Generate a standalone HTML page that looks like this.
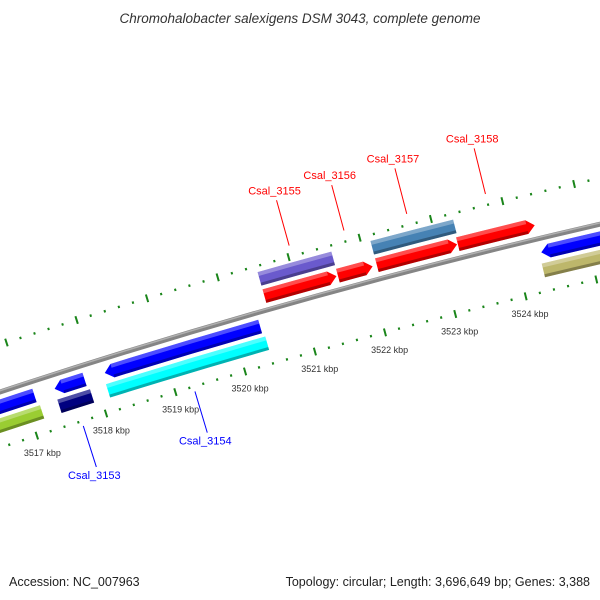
<!DOCTYPE html>
<html><head><meta charset="utf-8"><style>
html,body{margin:0;padding:0;background:#fff;}
svg{display:block;font-family:"Liberation Sans",sans-serif;}
</style></head><body>
<svg id="map" width="600" height="600" viewBox="0 0 600 600" xmlns="http://www.w3.org/2000/svg">
<rect width="600" height="600" fill="#fff"/>
<text x="300" y="23" text-anchor="middle" font-style="italic" font-size="13.5" fill="#333">Chromohalobacter salexigens DSM 3043, complete genome</text>
<g id="ticks"></g>
<g id="backbone"></g>
<g id="features"></g>
<g id="labels"></g>
<text x="9" y="586" font-size="12.5" fill="#222">Accession: NC_007963</text>
<text x="590" y="586" text-anchor="end" font-size="12.5" fill="#222">Topology: circular; Length: 3,696,649 bp; Genes: 3,388</text>
</svg>
<script>
// gene data (kbp)
const geneStarts = [3516.0, 3516.0, 3517.43, 3517.42, 3518.15, 3518.12, 3520.54, 3520.54, 3521.58, 3522.13, 3522.13, 3523.27, 3524.35, 3524.32];
const geneEnds   = [3517.17, 3517.14, 3517.86, 3517.89, 3520.37, 3520.40, 3521.58, 3521.56, 3522.07, 3523.26, 3523.29, 3524.35, 3526.0, 3526.0];
const geneStrand = [-1, -1, -1, -1, -1, -1, 1, 1, 1, 1, 1, 1, -1, -1];
const geneRow    = [2, 1, 1, 2, 1, 2, 2, 1, 1, 1, 2, 1, 1, 2];
const geneColor  = ["#9acd32","#0000ff","#0000ff","#000080","#0000ff","#00ffff","#6a5acd","#ff0000","#ff0000","#ff0000","#4682b4","#ff0000","#0000ff","#bdb76b"];
const labelNames = ["Csal_3153","Csal_3154","Csal_3155","Csal_3156","Csal_3157","Csal_3158"];
const labelPos   = [3517.65, 3519.26, 3521.05, 3521.82, 3522.70, 3523.80];
const labelStrand= [-1, -1, 1, 1, 1, 1];
const tickLabels = [3517, 3518, 3519, 3520, 3521, 3522, 3523, 3524];

const cx = 2129, cy = 6848, R0 = 6798;
function ang(kb){ return (-108.07 + 0.617*(kb-3517))*Math.PI/180; }
function P(kb, r){ const a = ang(kb); return [cx+(R0+r)*Math.cos(a), cy+(R0+r)*Math.sin(a)]; }
function f(p){ return p[0].toFixed(2)+" "+p[1].toFixed(2); }
const NS = "http://www.w3.org/2000/svg";
function band(k1,k2,r1,r2){
  return "M"+f(P(k1,r2))+" A"+(R0+r2)+" "+(R0+r2)+" 0 0 1 "+f(P(k2,r2))+" L"+f(P(k2,r1))+" A"+(R0+r1)+" "+(R0+r1)+" 0 0 0 "+f(P(k1,r1))+" Z";
}

// backbone
const bb = document.getElementById("backbone");
let p = document.createElementNS(NS,"path");
p.setAttribute("d", band(3515.5, 3526.5, -2.5, 2.5));
p.setAttribute("fill", "#858585");


bb.appendChild(p);
p = document.createElementNS(NS,"path");
p.setAttribute("d", band(3515.5, 3526.5, 0.5, 2.0));
p.setAttribute("fill", "#b0b0b0");


bb.appendChild(p);

// ticks
const tg = document.getElementById("ticks");
for (let i = 0; i <= 50; i++) {
  const kb = 3516 + i*0.2;
  const major = (i % 5 === 0);
  [[45, 'upper'], [-53, 'lower']].forEach(function(row){
    const r = row[0];
    const h = major ? 4 : 1.2;
    const a = P(kb, r-h), b = P(kb, r+h);
    const l = document.createElementNS(NS,"line");
    l.setAttribute("x1", a[0]); l.setAttribute("y1", a[1]);
    l.setAttribute("x2", b[0]); l.setAttribute("y2", b[1]);
    l.setAttribute("stroke", "#1a851a");
    l.setAttribute("stroke-width", "2");
    
    
    tg.appendChild(l);
  });
}
tickLabels.forEach(function(k){
  const q = P(k, -71);
  const t = document.createElementNS(NS,"text");
  t.setAttribute("x", q[0]); t.setAttribute("y", q[1]+3);
  t.setAttribute("text-anchor", "middle");
  t.setAttribute("font-size", "9");
  t.setAttribute("fill", "#333");
  t.textContent = k + " kbp";
  
  
  tg.appendChild(t);
});

// features
const fg = document.getElementById("features");
const H = 0.11;
for (let i = 0; i < geneStarts.length; i++) {
  const s = geneStarts[i], e = geneEnds[i], st = geneStrand[i], row = geneRow[i];
  const rIn = (row === 1 ? 7 : 25), rOut = rIn + 14;
  const r1 = st > 0 ? rIn : -rOut, r2 = st > 0 ? rOut : -rIn;
  const mid = (r1 + r2)/2;
  let d, bs = s, be = e;
  if (row === 1 && st > 0) {
    be = e - H;
    d = "M"+f(P(s,r2))+" A"+(R0+r2)+" "+(R0+r2)+" 0 0 1 "+f(P(be,r2))+" L"+f(P(e,mid))+" L"+f(P(be,r1))+" A"+(R0+r1)+" "+(R0+r1)+" 0 0 0 "+f(P(s,r1))+" Z";
  } else if (row === 1 && st < 0) {
    bs = s + H;
    d = "M"+f(P(bs,r2))+" A"+(R0+r2)+" "+(R0+r2)+" 0 0 1 "+f(P(e,r2))+" L"+f(P(e,r1))+" A"+(R0+r1)+" "+(R0+r1)+" 0 0 0 "+f(P(bs,r1))+" L"+f(P(s,mid))+" Z";
  } else {
    d = band(s, e, r1, r2);
  }
  const g = document.createElementNS(NS,"g");
  
  
  const m = document.createElementNS(NS,"path");
  m.setAttribute("d", d);
  m.setAttribute("fill", geneColor[i]);
  
  
  g.appendChild(m);
  const hl = document.createElementNS(NS,"path");
  hl.setAttribute("d", band(bs, be, r2-4, r2));
  hl.setAttribute("fill", "#fff");
  hl.setAttribute("fill-opacity", "0.3");
  
  
  g.appendChild(hl);
  const sh = document.createElementNS(NS,"path");
  sh.setAttribute("d", band(bs, be, r1, r1+3));
  sh.setAttribute("fill", "#000");
  sh.setAttribute("fill-opacity", "0.3");
  
  
  g.appendChild(sh);
  fg.appendChild(g);
}

// labels
const lg = document.getElementById("labels");
for (let i = 0; i < labelNames.length; i++) {
  const st = labelStrand[i];
  const col = st > 0 ? "#ff0000" : "#0000ff";
  const a = P(labelPos[i], st > 0 ? 56 : -58), b = P(labelPos[i], st > 0 ? 103 : -101);
  const l = document.createElementNS(NS,"line");
  l.setAttribute("x1", a[0]); l.setAttribute("y1", a[1]);
  l.setAttribute("x2", b[0]); l.setAttribute("y2", b[1]);
  l.setAttribute("stroke", col);
  l.setAttribute("stroke-width", "1");
  
  
  lg.appendChild(l);
  const t = document.createElementNS(NS,"text");
  t.setAttribute("x", b[0] - 2);
  t.setAttribute("y", st > 0 ? b[1] - 6 : b[1] + 12);
  t.setAttribute("text-anchor", "middle");
  t.setAttribute("font-size", "11");
  t.setAttribute("fill", col);
  t.textContent = labelNames[i];
  
  
  lg.appendChild(t);
}
</script>
</body></html>
